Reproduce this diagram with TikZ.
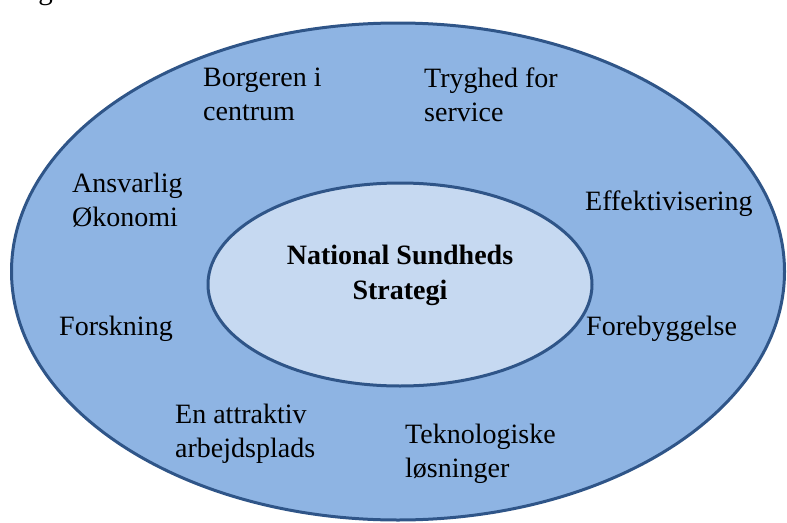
\documentclass[tikz,border=0pt]{standalone}
\usepackage{fontspec}
\setmainfont{Liberation Serif}
\usetikzlibrary{shapes.geometric}
\definecolor{ringblue}{RGB}{142,180,227}
\definecolor{coreblue}{RGB}{198,217,241}
\definecolor{edgeblue}{RGB}{47,85,136}

\begin{document}
\begin{tikzpicture}[x=1pt, y=-1pt,
    oval/.style = {ellipse, draw=edgeblue, line width=3pt, inner sep=0pt},
    goal/.style = {anchor=north west, align=left, inner sep=0pt,
        font=\fontsize{28}{34}\selectfont}]
    \useasboundingbox (0,0) rectangle (787,522);
    \begin{scope}
        \clip (0,0) rectangle (787,522);
        \node[anchor=base west, inner sep=0pt, font=\fontsize{29}{34}\selectfont] (caption) at (14,0) {Figure};
    \end{scope}
    \node[oval, fill=ringblue, minimum width=773pt, minimum height=497pt] (ring) at (398,271.5) {};
    \node[oval, fill=coreblue, minimum width=384pt, minimum height=203pt] (core) at (400,284.5) {};
    \node[align=center, inner sep=0pt, anchor=north, font=\bfseries\fontsize{28}{35}\selectfont] (nss) at (400,245) {National Sundheds\\Strategi};
    \node[goal] (borger) at (203,68) {Borgeren i\\centrum};
    \node[goal] (tryghed) at (424,68) {Tryghed for\\service};
    \node[goal] (oekonomi) at (72,173) {Ansvarlig\\Økonomi};
    \node[goal] (effekt) at (585,191) {Effektivisering};
    \node[goal] (forskning) at (59,316) {Forskning};
    \node[goal] (forebyg) at (586,316) {Forebyggelse};
    \node[goal] (arbejde) at (175,404) {En attraktiv\\arbejdsplads};
    \node[goal] (teknologi) at (405,424) {Teknologiske\\løsninger};
\end{tikzpicture}
\end{document}
